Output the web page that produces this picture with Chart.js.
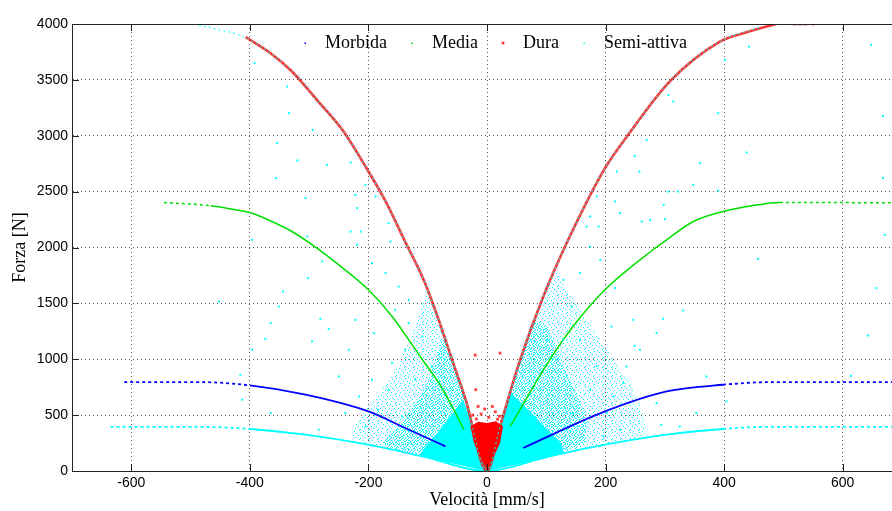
<!DOCTYPE html>
<html>
<head>
<meta charset="utf-8">
<script src="https://cdn.jsdelivr.net/npm/chart.js@4"></script>
<style>
  html, body { margin: 0; padding: 0; background: #fff; overflow: hidden; }
  #wrap { position: relative; width: 910px; height: 511px; }
</style>
</head>
<body>
<div id="wrap"><canvas id="forceChart"></canvas></div>
<script>
// axis ticks
const tickX = [-600, -400, -200, 0, 200, 400, 600];
const tickY = [0, 500, 1000, 1500, 2000, 2500, 3000, 3500, 4000];

const seriesNames = ['Morbida', 'Media', 'Dura', 'Semi-attiva'];
const seriesColors = ['#0000ff', '#00e000', '#ff0000', '#00ffff'];

// [velocita mm/s, forza N]
const morbida = [[-612, 796], [-486, 796], [-400, 766], [-306, 683], [-200, 533], [-138, 385], [-70, 220],
  [0, null], [61, 206], [199, 533], [303, 712], [398, 772], [483, 796], [700, 796]];

const media = [[-545, 2403], [-466, 2373], [-430, 2343], [-400, 2313], [-363, 2233], [-329, 2143], [-287, 1995],
  [-250, 1845], [-200, 1622], [-160, 1383], [-109, 996], [-81, 787], [-56, 548], [-39, 369],
  [0, null], [39, 399], [106, 996], [145, 1293], [199, 1622], [280, 1980], [303, 2069], [348, 2233],
  [398, 2322], [449, 2376], [494, 2403], [700, 2400]];

const dura = [[-407, 3882], [-365, 3738], [-329, 3575], [-287, 3321], [-244, 3053], [-200, 2680], [-171, 2412],
  [-137, 2040], [-106, 1700], [-82, 1360], [-59, 996], [-36, 638], [0, 0], [22, 399], [56, 996],
  [95, 1562], [137, 2069], [199, 2710], [238, 3008], [308, 3485], [393, 3843], [440, 3930], [488, 4000]];

const duraCluster = [[0, 0], [-22, 250], [-28, 400], [-15, 440], [0, 430], [15, 445], [27, 400], [22, 250], [0, 0]];

const duraSpots = [[-20, 1037], [22, 1055], [-19, 727], [-15, 578], [9, 578], [-4, 555], [14, 530], [-24, 500],
  [21, 490], [-10, 510], [3, 480], [-18, 465], [18, 462], [519, 4000], [528, 4000], [537, 4000], [550, 4000]];

const semiEnvelope = [[-494, 4000], [-452, 3947], [-418, 3902], [-365, 3738], [-329, 3575], [-287, 3321],
  [-244, 3053], [-200, 2680], [-171, 2412], [-137, 2040], [-106, 1700], [-82, 1360], [-59, 996], [-36, 638],
  [0, 0], [22, 399], [56, 996], [95, 1562], [137, 2069], [199, 2710], [238, 3008], [308, 3485],
  [393, 3843], [465, 3977]];

const semiLow = [[-635, 394], [-475, 394], [-400, 376], [-306, 325], [-200, 235], [-109, 131], [0, 0],
  [101, 125], [199, 235], [303, 325], [398, 376], [466, 394], [700, 394]];

// dense part of the Semi-attiva cloud
const semiCore = [[0, 0], [-60, 70], [-115, 135], [-105, 210], [-85, 330], [-65, 470], [-40, 640], [0, 0],
  [40, 700], [75, 520], [100, 380], [125, 250], [130, 155], [60, 70], [0, 0]];

const semiMidLeft = [[0, 0], [-109, 131], [-160, 185], [-175, 260], [-150, 400], [-120, 600], [-95, 850],
  [-78, 1150], [-74, 1200], [-59, 996], [-36, 638], [0, 0]];
const semiMidRight = [[0, 0], [22, 399], [56, 996], [80, 1350], [100, 1300], [125, 1000], [150, 700],
  [170, 450], [165, 250], [101, 125], [0, 0]];

const semiHaloLeft = [[0, 0], [-109, 131], [-200, 235], [-230, 320], [-215, 480], [-180, 700], [-150, 950],
  [-120, 1300], [-104, 1600], [-106, 1700], [-82, 1360], [-59, 996], [-36, 638], [0, 0]];
const semiHaloRight = [[0, 0], [22, 399], [56, 996], [95, 1562], [115, 1800], [150, 1500], [200, 1100],
  [240, 800], [265, 500], [270, 320], [199, 235], [101, 125], [0, 0]];

const semiSpots = [[-392, 3650], [-337, 3440], [-334, 3202], [-294, 3053], [-354, 2934], [-320, 2778],
  [-270, 2740], [-230, 2760], [-356, 2621], [-306, 2442], [-222, 2471], [-205, 2561], [-219, 2352],
  [-230, 2143], [-213, 2143], [-303, 2098], [-396, 2069], [-163, 2054], [-166, 2218], [-188, 2456],
  [-452, 1517], [-365, 1324], [-351, 1472], [-344, 1606], [-302, 1726], [-278, 1875], [-267, 1270],
  [-281, 1362], [-295, 1159], [-374, 1183], [-396, 1085], [-413, 638], [-416, 861], [-365, 519],
  [-284, 369], [-250, 846], [-233, 1085], [-222, 1352], [-219, 2024], [-194, 1860], [-171, 1771],
  [-149, 1651], [-132, 1532], [-155, 1443], [-191, 1234], [-132, 1324], [-109, 1204], [-138, 1085],
  [-160, 966], [-194, 817], [-216, 667], [-239, 519], [-93, 936], [-121, 817], [-166, 727], [-184, 548],
  [-143, 488], [-205, 399],
  [306, 3365], [314, 3306], [390, 3202], [269, 2963], [249, 2820], [359, 2755], [438, 2850], [257, 2680],
  [219, 2680], [348, 2561], [322, 2501], [306, 2501], [298, 2382], [216, 2412], [224, 2308], [261, 2233],
  [275, 2248], [300, 2254], [648, 3813], [668, 3178], [668, 2621], [671, 2114], [401, 3679], [442, 3798],
  [390, 2510], [185, 2456], [174, 2277], [188, 2188], [168, 2188],
  [457, 1899], [657, 1637], [643, 1213], [614, 852], [331, 1437], [297, 1362], [286, 1234], [258, 1085],
  [249, 1121], [235, 936], [230, 787], [213, 667], [286, 608], [294, 414], [370, 846], [404, 623],
  [353, 519], [325, 399], [216, 1637], [210, 1293], [247, 1353], [157, 1771], [191, 1890], [174, 2009],
  [129, 1711], [143, 1472], [157, 1174], [185, 936], [129, 1174], [117, 996], [101, 1174], [174, 727],
  [145, 519], [202, 519], [224, 369], [196, 310]];

// speckle fill for the scattered part of the cloud
function speckle(size, cells) {
  const c = document.createElement('canvas');
  c.width = size; c.height = size;
  const g = c.getContext('2d');
  g.fillStyle = '#00ffff';
  cells.forEach(p => g.fillRect(p[0], p[1], 1, 1));
  return g.createPattern(c, 'repeat');
}
const speckleMid = speckle(6, [[0, 0], [3, 0], [5, 1], [1, 2], [4, 2], [2, 3], [0, 4], [5, 4], [3, 5], [1, 5]]);
const speckleLight = speckle(9, [[0, 0], [5, 1], [2, 3], [7, 3], [4, 5], [0, 6], [8, 7], [3, 8]]);

// flat parts of the curves were plotted as sparse dots
function sparse(c) {
  const dx = Math.abs(c.p1.parsed.x - c.p0.parsed.x);
  const dy = Math.abs(c.p1.parsed.y - c.p0.parsed.y);
  return dy < 0.4 * dx ? [3, 3] : undefined;
}

function curve(label, data, color, width, order, extra) {
  return Object.assign({
    label: label, data: data, showLine: true, borderColor: color, borderWidth: width,
    pointRadius: 0, fill: false, spanGaps: false, order: order,
    cubicInterpolationMode: 'monotone',
    segment: { borderDash: sparse }
  }, extra || {});
}

function area(label, data, color, order) {
  return {
    label: label, data: data, showLine: true, borderWidth: 0, borderColor: 'rgba(0,0,0,0)',
    backgroundColor: color, fill: 'shape', pointRadius: 0, order: order
  };
}

function dots(label, data, color, radius, order) {
  return {
    label: label, data: data, showLine: false, pointStyle: 'rect', pointRadius: radius,
    pointBackgroundColor: color, pointBorderWidth: 0, order: order
  };
}

const serif = 'Liberation Serif';
const sans = 'Liberation Sans';

const legendInside = {
  id: 'legendInside',
  afterDraw(chart) {
    const ctx = chart.ctx;
    ctx.save();
    ctx.font = '18px "' + serif + '"';
    ctx.textBaseline = 'middle';
    let x = 305;
    const y = 43;
    seriesNames.forEach((name, i) => {
      ctx.fillStyle = seriesColors[i];
      if (i === 2) {
        ctx.fillStyle = 'rgba(255,0,0,0.5)';
        ctx.fillRect(x - 1.5, y - 1.5, 3, 3);
        ctx.fillStyle = '#ff0000';
      }
      ctx.fillRect(x - 0.5, y - 0.5, 1.5, 1.5);
      ctx.fillStyle = '#000';
      ctx.fillText(name, x + 20, y);
      x += 20 + ctx.measureText(name).width + 25;
    });
    ctx.restore();
  }
};

const frameTicks = {
  id: 'frameTicks',
  afterDraw(chart) {
    const { ctx, chartArea: a, scales } = chart;
    ctx.save();
    ctx.strokeStyle = '#222';
    ctx.lineWidth = 1;
    ctx.beginPath();
    ctx.moveTo(a.left, a.top + 0.5);
    ctx.lineTo(a.right, a.top + 0.5);
    tickX.forEach(v => {
      const px = Math.round(scales.x.getPixelForValue(v)) + 0.5;
      ctx.moveTo(px, a.bottom); ctx.lineTo(px, a.bottom - 7);
      ctx.moveTo(px, a.top); ctx.lineTo(px, a.top + 7);
    });
    tickY.forEach(v => {
      const py = Math.round(scales.y.getPixelForValue(v)) + 0.5;
      ctx.moveTo(a.left, py); ctx.lineTo(a.left + 7, py);
    });
    ctx.stroke();
    ctx.restore();
  }
};

new Chart(document.getElementById('forceChart'), {
  type: 'scatter',
  data: {
    datasets: [
      dots(seriesNames[2], duraSpots, 'rgba(255,0,0,0.75)', 2, 0),
      dots(seriesNames[3], semiSpots, seriesColors[3], 1.4, 1),
      curve('semiEnvelope', semiEnvelope, seriesColors[3], 1, 2, { segment: { borderDash: () => [2, 3] } }),
      area('duraCluster', duraCluster, '#ff0000', 3),
      curve(seriesNames[2], dura, 'rgba(255,0,0,0.8)', 2.6, 4, { segment: {} }),
      curve(seriesNames[1], media, seriesColors[1], 1.5, 5),
      curve(seriesNames[0], morbida, seriesColors[0], 1.8, 6),
      curve('semiLow', semiLow, seriesColors[3], 1.8, 7),
      area('semiCore', semiCore, seriesColors[3], 8),
      area('semiMidL', semiMidLeft, speckleMid, 9),
      area('semiMidR', semiMidRight, speckleMid, 10),
      area('semiHaloL', semiHaloLeft, speckleLight, 11),
      area('semiHaloR', semiHaloRight, speckleLight, 12)
    ]
  },
  options: {
    responsive: true,
    maintainAspectRatio: false,
    animation: false,
    layout: { padding: { top: 24, right: 8, left: 0, bottom: 0 } },
    plugins: {
      legend: { display: false },
      tooltip: { enabled: false }
    },
    scales: {
      x: {
        type: 'linear',
        min: -700,
        max: 700,
        afterBuildTicks: s => { s.ticks = tickX.map(v => ({ value: v })); },
        afterFit: s => { s.height = 40; },
        grid: { color: '#555', lineWidth: 1, drawTicks: false },
        border: { display: true, color: '#222', width: 1, dash: [1, 3] },
        ticks: { color: '#000', font: { family: sans, size: 14 }, padding: 4, maxRotation: 0, autoSkip: false,
          callback: v => String(v) },
        title: { display: true, text: 'Velocità [mm/s]', color: '#000', font: { family: serif, size: 18 }, padding: 0 }
      },
      y: {
        type: 'linear',
        min: 0,
        max: 4000,
        afterBuildTicks: s => { s.ticks = tickY.map(v => ({ value: v })); },
        afterFit: s => { s.width = 72; },
        grid: { color: '#555', lineWidth: 1, drawTicks: false },
        border: { display: true, color: '#222', width: 1, dash: [1, 3] },
        ticks: { color: '#000', font: { family: sans, size: 14 }, padding: 4, callback: v => String(v) },
        title: { display: true, text: 'Forza [N]', color: '#000', font: { family: serif, size: 18 }, padding: { top: 9, bottom: 0 } }
      }
    }
  },
  plugins: [legendInside, frameTicks]
});
</script>
</body>
</html>
